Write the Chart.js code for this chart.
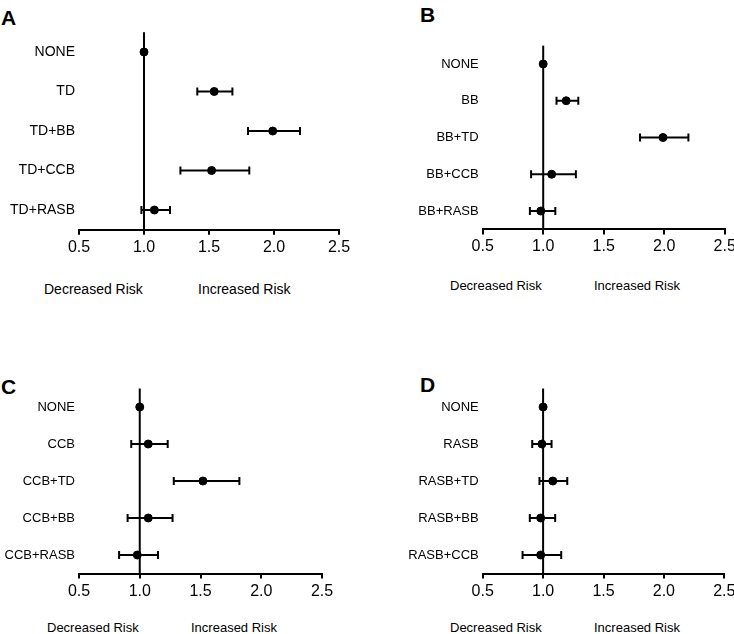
<!DOCTYPE html>
<html>
<head>
    <title>Risk by antihypertensive combination</title>
    <meta charset="UTF-8">
    <script src="https://cdn.jsdelivr.net/npm/chart.js"></script>
    <style>
        body { margin: 0; width: 734px; height: 634px; overflow: hidden; background: #fff; position: relative;
               font-family: "Liberation Sans", Arial, sans-serif; color: #000; }
        canvas { position: absolute; }
        .letter { position: absolute; font-weight: bold; font-size: 21px; line-height: 21px; }
        .txt { position: absolute; font-size: 13px; line-height: 16px; white-space: nowrap; }
        .big { font-size: 14px; }
    </style>
</head>
<body>
    <div class="letter" style="left:1px;top:7px">A</div>
    <div class="letter" style="left:420px;top:4px">B</div>
    <div class="letter" style="left:1px;top:376px">C</div>
    <div class="letter" style="left:420px;top:374px">D</div>

    <canvas id="panelA" width="367" height="266" style="left:0;top:0"></canvas>
    <canvas id="panelB" width="380" height="266" style="left:367px;top:0"></canvas>
    <canvas id="panelC" width="367" height="293" style="left:0;top:317px"></canvas>
    <canvas id="panelD" width="380" height="293" style="left:367px;top:317px"></canvas>

    <div class="txt big" style="left:44px;top:281px">Decreased Risk</div>
    <div class="txt big" style="left:198px;top:281px">Increased Risk</div>
    <div class="txt" style="left:450px;top:278px">Decreased Risk</div>
    <div class="txt" style="left:594px;top:278px">Increased Risk</div>
    <div class="txt" style="left:47px;top:620px">Decreased Risk</div>
    <div class="txt" style="left:191px;top:620px">Increased Risk</div>
    <div class="txt" style="left:450px;top:620px">Decreased Risk</div>
    <div class="txt" style="left:594px;top:620px">Increased Risk</div>

    <script>
        // odds ratios (point estimate + 95% CI)
        const xTicks = [0.5, 1.0, 1.5, 2.0, 2.5];
        const REF = 1.0;

        const labelsA = ['NONE', 'TD', 'TD+BB', 'TD+CCB', 'TD+RASB'];
        const estA  = [1.00, 1.54, 1.99, 1.52, 1.08];
        const lowA  = [1.00, 1.41, 1.80, 1.28, 0.98];
        const highA = [1.00, 1.68, 2.20, 1.81, 1.20];

        const labelsB = ['NONE', 'BB', 'BB+TD', 'BB+CCB', 'BB+RASB'];
        const estB  = [1.00, 1.19, 1.99, 1.07, 0.98];
        const lowB  = [1.00, 1.11, 1.80, 0.90, 0.89];
        const highB = [1.00, 1.29, 2.20, 1.27, 1.10];

        const labelsC = ['NONE', 'CCB', 'CCB+TD', 'CCB+BB', 'CCB+RASB'];
        const estC  = [1.00, 1.07, 1.52, 1.07, 0.98];
        const lowC  = [1.00, 0.93, 1.28, 0.90, 0.83];
        const highC = [1.00, 1.23, 1.82, 1.27, 1.15];

        const labelsD = ['NONE', 'RASB', 'RASB+TD', 'RASB+BB', 'RASB+CCB'];
        const estD  = [1.00, 0.99, 1.08, 0.98, 0.98];
        const lowD  = [1.00, 0.91, 0.97, 0.89, 0.83];
        const highD = [1.00, 1.07, 1.20, 1.10, 1.15];

        const FONT = '"Liberation Sans", Arial, sans-serif';

        // reference line + whiskers, drawn under the points
        const forestPlugin = {
            id: 'forest',
            beforeDatasetsDraw(chart, args, opts) {
                const ctx = chart.ctx;
                const x = chart.scales.x, y = chart.scales.y;
                const area = chart.chartArea;
                ctx.save();
                ctx.strokeStyle = '#000';
                ctx.lineWidth = 2;
                ctx.beginPath();
                ctx.moveTo(x.getPixelForValue(REF), area.top);
                ctx.lineTo(x.getPixelForValue(REF), area.bottom);
                ctx.stroke();
                opts.low.forEach((lo, i) => {
                    const hi = opts.high[i];
                    if (lo === hi) return;
                    const py = y.getPixelForValue(i);
                    const x0 = x.getPixelForValue(lo), x1 = x.getPixelForValue(hi);
                    ctx.beginPath();
                    ctx.moveTo(x0, py); ctx.lineTo(x1, py);
                    ctx.moveTo(x0, py - 4); ctx.lineTo(x0, py + 4);
                    ctx.moveTo(x1, py - 4); ctx.lineTo(x1, py + 4);
                    ctx.stroke();
                });
                ctx.restore();
            }
        };

        function makePanel(id, labels, est, low, high, g) {
            return new Chart(document.getElementById(id), {
                type: 'scatter',
                data: {
                    datasets: [{
                        data: est.map((v, i) => ({ x: v, y: i })),
                        backgroundColor: '#000',
                        borderColor: '#000',
                        pointRadius: 4,
                        pointHoverRadius: 4
                    }]
                },
                options: {
                    responsive: false,
                    animation: false,
                    events: [],
                    layout: { padding: { left: 0, right: g.padRight, top: g.padTop, bottom: 0 } },
                    plugins: {
                        legend: { display: false },
                        tooltip: { enabled: false },
                        forest: { low: low, high: high }
                    },
                    scales: {
                        x: {
                            type: 'linear',
                            min: xTicks[0],
                            max: xTicks[xTicks.length - 1],
                            afterBuildTicks: s => { s.ticks = xTicks.map(v => ({ value: v })); },
                            afterFit: s => { s.height = g.xH; },
                            ticks: {
                                color: '#000',
                                padding: 3,
                                maxRotation: 0,
                                font: { family: FONT, size: 16 },
                                callback: v => v.toFixed(1)
                            },
                            grid: { drawOnChartArea: false, drawTicks: true, tickLength: 5, color: '#000', lineWidth: 2 },
                            border: { display: true, color: '#000', width: 2 }
                        },
                        y: {
                            type: 'linear',
                            reverse: true,
                            min: -0.5,
                            max: labels.length - 0.5,
                            afterBuildTicks: s => { s.ticks = labels.map((_, i) => ({ value: i })); },
                            afterFit: s => { s.width = g.yW; },
                            ticks: {
                                color: '#000',
                                padding: 4,
                                font: { family: FONT, size: g.labelSize },
                                callback: v => labels[v]
                            },
                            grid: { display: false, drawTicks: false },
                            border: { display: false }
                        }
                    }
                },
                plugins: [forestPlugin]
            });
        }

        makePanel('panelA', labelsA, estA, lowA, highA, { padRight: 28,   padTop: 32.25, xH: 36.25, yW: 79,    labelSize: 14 });
        makePanel('panelB', labelsB, estB, lowB, highB, { padRight: 22.3, padTop: 45.6,  xH: 36.6,  yW: 115.7, labelSize: 13 });
        makePanel('panelC', labelsC, estC, lowC, highC, { padRight: 45,   padTop: 71.5,  xH: 36.5,  yW: 79,    labelSize: 13 });
        makePanel('panelD', labelsD, estD, lowD, highD, { padRight: 22.7, padTop: 71.5,  xH: 36.5,  yW: 115.7, labelSize: 13 });
    </script>
</body>
</html>
